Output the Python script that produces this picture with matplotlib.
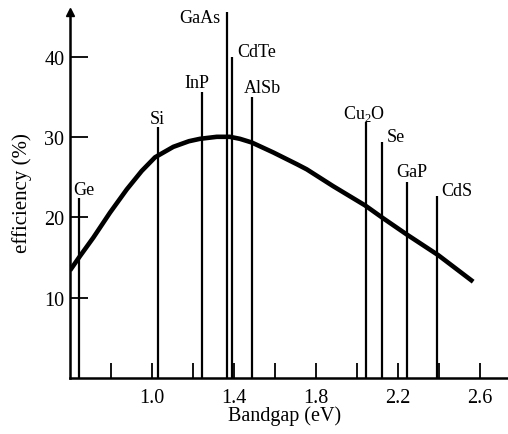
import matplotlib
matplotlib.use("Agg")
import matplotlib.pyplot as plt

plt.rcParams['font.family'] = ['Liberation Serif', 'DejaVu Serif']
plt.rcParams['mathtext.fontset'] = 'custom'
plt.rcParams['mathtext.rm'] = 'Liberation Serif'

# theoretical efficiency vs bandgap
curve_x = [0.600, 0.649, 0.714, 0.795, 0.877, 0.950, 1.015, 1.104, 1.180, 1.234,
           1.316, 1.380, 1.429, 1.486, 1.592, 1.706, 1.755, 1.884, 2.040, 2.128,
           2.242, 2.397, 2.567]
curve_y = [13.4, 15.2, 17.5, 20.6, 23.5, 25.8, 27.5, 28.8, 29.5, 29.8,
           30.05, 30.05, 29.8, 29.35, 28.1, 26.65, 26.0, 23.9, 21.5, 19.9,
           17.9, 15.3, 12.0]

# materials, their bandgaps and marker heights
materials = ['Ge', 'Si', 'InP', 'GaAs', 'CdTe', 'AlSb', r'Cu$_\mathrm{2}$O', 'Se', 'GaP', 'CdS']
gaps = [0.644, 1.027, 1.246, 1.364, 1.389, 1.489, 2.044, 2.121, 2.243, 2.392]
tops = [22.4, 31.3, 35.6, 45.6, 40.0, 35.0, 31.9, 29.4, 24.4, 22.7]

# label offsets from the top of each line (pixels)
offsets = [(5, 9), (0, 8), (-6, 10), (-27, -5), (25, 5), (10, 10),
           (-2, 9), (14, 6), (5, 11), (20, 5)]

fig = plt.figure(figsize=(5.08, 4.35), dpi=100)
ax = fig.add_axes([0.1378, 0.1287, 0.8622, 0.8414])

ax.plot(curve_x, curve_y, color='black', lw=3.3, solid_capstyle='butt', solid_joinstyle='round')
ax.vlines(gaps, 0, tops, color='black', lw=1.6)

for name, g, t, (dx, dy) in zip(materials, gaps, tops, offsets):
    ax.annotate(name, (g, t), xytext=(dx * 0.72, dy * 0.72), textcoords='offset points',
                ha='center', va='center', fontsize=13)

ax.set_xlim(0.6, 2.737)
ax.set_ylim(0, 45.6)

for side in ['top', 'right']:
    ax.spines[side].set_visible(False)
for side in ['left', 'bottom']:
    ax.spines[side].set_linewidth(1.8)

# arrow head on the y axis
ax.plot(0, 1, marker='^', color='black', markersize=6, transform=ax.transAxes, clip_on=False)

ax.set_yticks([10, 20, 30, 40])
ax.set_xticks([1.0, 1.4, 1.8, 2.2, 2.6])
ax.set_xticklabels(['1.0', '1.4', '1.8', '2.2', '2.6'])
ax.set_xticks([0.8, 1.2, 1.6, 2.0, 2.4], minor=True)
ax.tick_params(axis='y', direction='in', length=13, width=1.3, pad=4, labelsize=14.5)
ax.tick_params(axis='x', which='both', direction='in', length=11, width=1.3, pad=7, labelsize=14.5)

ax.set_xlabel('Bandgap (eV)', fontsize=14.5)
ax.set_ylabel('efficiency (%)', fontsize=15)
ax.xaxis.set_label_coords(0.491, -0.075)
ax.yaxis.set_label_coords(-0.087, 0.508)

fig.savefig('out.png', dpi=100)
